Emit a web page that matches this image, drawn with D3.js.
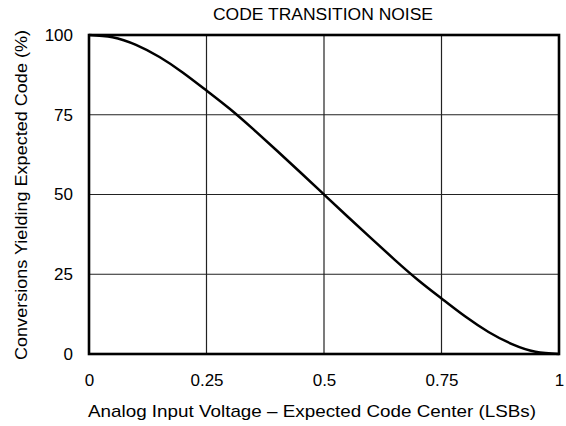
<!DOCTYPE html>
<html>
<head>
<meta charset="utf-8">
<script src="https://cdn.jsdelivr.net/npm/d3@7"></script>
<style>
  body { margin: 0; background: #fff; }
  text { font-family: Arial, "Liberation Sans", sans-serif; fill: #000; }
</style>
</head>
<body>
<svg id="chart" width="566" height="426"></svg>
<script>
// data
var offsetLsb = [0, 0.05, 0.1, 0.15, 0.2, 0.25, 0.3, 0.35, 0.4, 0.45, 0.5,
                 0.55, 0.6, 0.65, 0.7, 0.75, 0.8, 0.85, 0.9, 0.95, 1];
var pctExpected = [100, 99.3, 96.9, 93.1, 88.2, 82.6, 76.8, 70.4, 63.7, 56.9, 50,
                   43.1, 36.3, 29.6, 23.2, 17.4, 11.8, 6.9, 3.1, 0.7, 0];
var xTicks = [0, 0.25, 0.5, 0.75, 1];
var xTickLabels = ["0", "0.25", "0.5", "0.75", "1"];
var yTicks = [0, 25, 50, 75, 100];

var svg = d3.select("#chart");
var margin = {left: 89, right: 7, top: 35, bottom: 72};
var width = 566 - margin.left - margin.right;
var height = 426 - margin.top - margin.bottom;

var g = svg.append("g")
    .attr("transform", "translate(" + margin.left + "," + margin.top + ")");

var x = d3.scaleLinear().domain([0, 1]).range([0, width]);
var y = d3.scaleLinear().domain([0, 100]).range([height, 0]);

// grid
g.selectAll(".vgrid").data(xTicks.slice(1, -1)).enter().append("line")
    .attr("x1", function(d) { return x(d); })
    .attr("x2", function(d) { return x(d); })
    .attr("y1", 0).attr("y2", height)
    .attr("stroke", "#222").attr("stroke-width", 1.2);
g.selectAll(".hgrid").data(yTicks.slice(1, -1)).enter().append("line")
    .attr("y1", function(d) { return y(d); })
    .attr("y2", function(d) { return y(d); })
    .attr("x1", 0).attr("x2", width)
    .attr("stroke", "#222").attr("stroke-width", 1.2);

// axes (labels only)
var xAxis = d3.axisBottom(x).tickValues(xTicks).tickSize(0).tickPadding(20)
    .tickFormat(function(d, i) { return xTickLabels[i]; });
var gx = g.append("g").attr("transform", "translate(0," + height + ")").call(xAxis);
gx.select(".domain").remove();
gx.selectAll("text").style("font-size", "17px").style("font-family", "Arial, 'Liberation Sans', sans-serif");

var yAxis = d3.axisLeft(y).tickValues(yTicks).tickSize(0).tickPadding(16);
var gy = g.append("g").call(yAxis);
gy.select(".domain").remove();
gy.selectAll("text").style("font-size", "17px").style("font-family", "Arial, 'Liberation Sans', sans-serif");

// curve
var pts = offsetLsb.map(function(d, i) { return [d, pctExpected[i]]; });
var line = d3.line()
    .x(function(d) { return x(d[0]); })
    .y(function(d) { return y(d[1]); })
    .curve(d3.curveNatural);
g.append("path").datum(pts)
    .attr("d", line)
    .attr("fill", "none")
    .attr("stroke", "#000")
    .attr("stroke-width", 2.5);

// frame
g.append("rect")
    .attr("x", 0).attr("y", 0)
    .attr("width", width).attr("height", height)
    .attr("fill", "none").attr("stroke", "#000").attr("stroke-width", 2.6);

// titles
svg.append("text")
    .attr("x", 323).attr("y", 20)
    .attr("text-anchor", "middle").style("font-size", "16px")
    .attr("textLength", 220).attr("lengthAdjust", "spacingAndGlyphs")
    .text("CODE TRANSITION NOISE");

svg.append("text")
    .attr("x", 312).attr("y", 417)
    .attr("text-anchor", "middle").style("font-size", "17px")
    .attr("textLength", 448).attr("lengthAdjust", "spacingAndGlyphs")
    .text("Analog Input Voltage \u2013 Expected Code Center (LSBs)");

svg.append("text")
    .attr("transform", "translate(27,195) rotate(-90)")
    .attr("text-anchor", "middle").style("font-size", "17px")
    .attr("textLength", 330).attr("lengthAdjust", "spacingAndGlyphs")
    .text("Conversions Yielding Expected Code (%)");
</script>
</body>
</html>
